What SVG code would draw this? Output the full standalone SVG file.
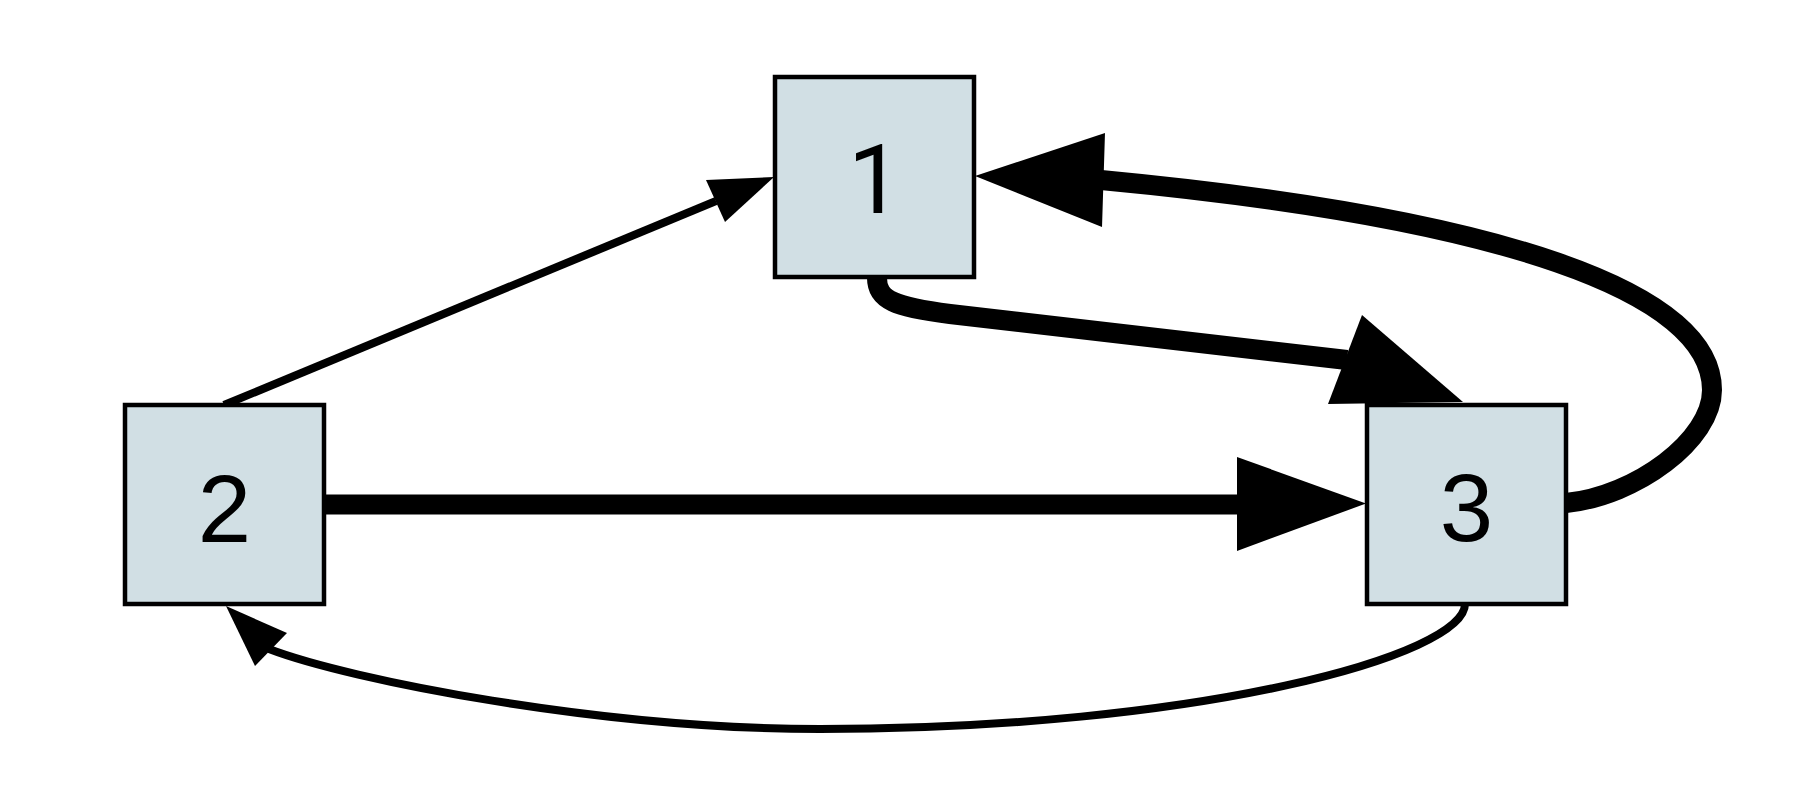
<svg xmlns="http://www.w3.org/2000/svg" width="1812" height="792" viewBox="0 0 1812 792">
  <style>
    .node rect { fill: #d1dfe4; stroke: #000; stroke-width: 4.5; }
    .node text { font-family: "Liberation Sans", Arial, sans-serif; font-size: 96px; fill: #000; text-anchor: middle; }
    .node text.one { font-family: Roboto, "Liberation Sans", Arial, sans-serif; }
    .edge { fill: none; stroke: #000; }
    .thin { stroke-width: 8; }
    .thick { stroke-width: 20; }
    .head { fill: #000; stroke: none; }
  </style>
  <rect width="1812" height="792" fill="#ffffff"/>
  <g id="connectors">
    <!-- 2 -> 1 -->
    <path class="edge thin" d="M224,405 L716,201"/>
    <polygon class="head" points="774,177 706,180 725,222"/>
    <!-- 2 -> 3 -->
    <path class="edge thick" d="M324,504.5 L1240,504.5"/>
    <polygon class="head" points="1366,503.5 1237,457 1237,551"/>
    <!-- 1 -> 3 -->
    <path class="edge thick" d="M877,278 C877,300 895,307 950,314 L1347,360"/>
    <polygon class="head" points="1463,402 1362,315 1328,404"/>
    <!-- 3 -> 1 -->
    <path class="edge thick" d="M1566,503 C1636,496 1712,440 1712,390 C1712,292 1503,218 1101,180"/>
    <polygon class="head" points="975,176 1105,133 1102,227"/>
    <!-- 3 -> 2 -->
    <path class="edge thin" d="M1465,604 C1465,655 1200,729 820,729 C600,729 350,680 269,649"/>
    <polygon class="head" points="226,606 287,633 255,666"/>
  </g>
  <g id="node1" class="node">
    <rect x="775" y="77" width="199" height="200"/>
    <text class="one" x="875" y="213">1</text>
  </g>
  <g id="node2" class="node">
    <rect x="125" y="405" width="199" height="199"/>
    <text x="224.5" y="542">2</text>
  </g>
  <g id="node3" class="node">
    <rect x="1367" y="405" width="199" height="199"/>
    <text x="1466.5" y="541">3</text>
  </g>
</svg>
